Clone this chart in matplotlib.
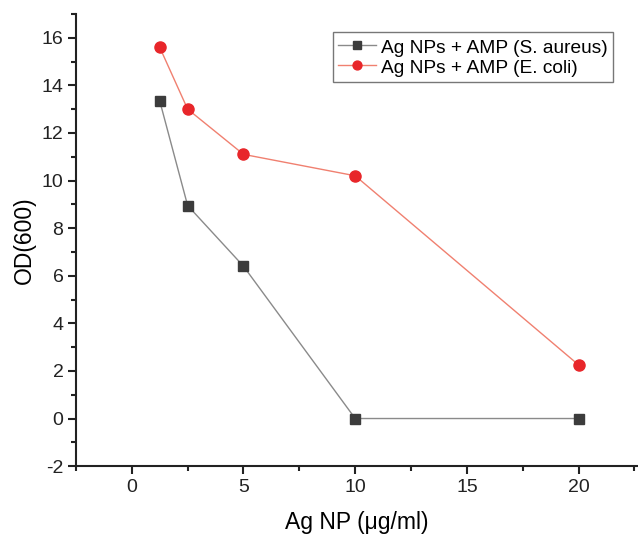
import matplotlib
matplotlib.use("Agg")
import matplotlib.pyplot as plt
from matplotlib.ticker import MultipleLocator

plt.rcParams['font.family'] = ['Liberation Sans', 'DejaVu Sans']
plt.rcParams['axes.unicode_minus'] = False

conc = [1.25, 2.5, 5, 10, 20]
od_saureus = [13.35, 8.95, 6.4, 0.0, 0.0]
od_ecoli = [15.6, 13.0, 11.1, 10.2, 2.25]
label_saureus = "Ag NPs + AMP (S. aureus)"
label_ecoli = "Ag NPs + AMP (E. coli)"

fig = plt.figure(figsize=(6.38, 5.37), dpi=100)
ax = fig.add_axes([0.119, 0.132, 0.879, 0.842])

ax.plot(conc, od_saureus, color='#8a8a8a', lw=1.0, marker='s', ms=7,
        mfc='#3c3c3c', mec='#3c3c3c', label=label_saureus)
ax.plot(conc, od_ecoli, color='#f08070', lw=1.0, marker='o', ms=8,
        mfc='#e8262a', mec='#e8262a', label=label_ecoli)

ax.set_xlim(-2.5, 22.6)
ax.set_ylim(-2, 17)
ax.xaxis.set_major_locator(MultipleLocator(5))
ax.xaxis.set_minor_locator(MultipleLocator(2.5))
ax.yaxis.set_major_locator(MultipleLocator(2))
ax.yaxis.set_minor_locator(MultipleLocator(1))

for s in ['top', 'right']:
    ax.spines[s].set_visible(False)
for s in ['left', 'bottom']:
    ax.spines[s].set_linewidth(1.5)
    ax.spines[s].set_color('#222222')

ax.tick_params(which='major', direction='out', length=6, width=1.5, labelsize=14,
               colors='#222222', pad=3)
ax.tick_params(which='minor', direction='out', length=3.5, width=1.5, colors='#222222')

ax.set_xlabel("Ag NP (μg/ml)", fontsize=16.5, labelpad=11)
ax.set_ylabel("OD(600)", fontsize=16.5, labelpad=4)

leg = ax.legend(loc='upper right', bbox_to_anchor=(0.957, 0.960), fontsize=13.8,
                frameon=True, fancybox=False, edgecolor='#555555',
                handlelength=2.0, handletextpad=0.26, handleheight=1.15,
                borderpad=0.25, labelspacing=0.0, borderaxespad=0.0,
                markerscale=0.8)
leg.get_frame().set_linewidth(1.0)

fig.savefig("out.png", dpi=100)
